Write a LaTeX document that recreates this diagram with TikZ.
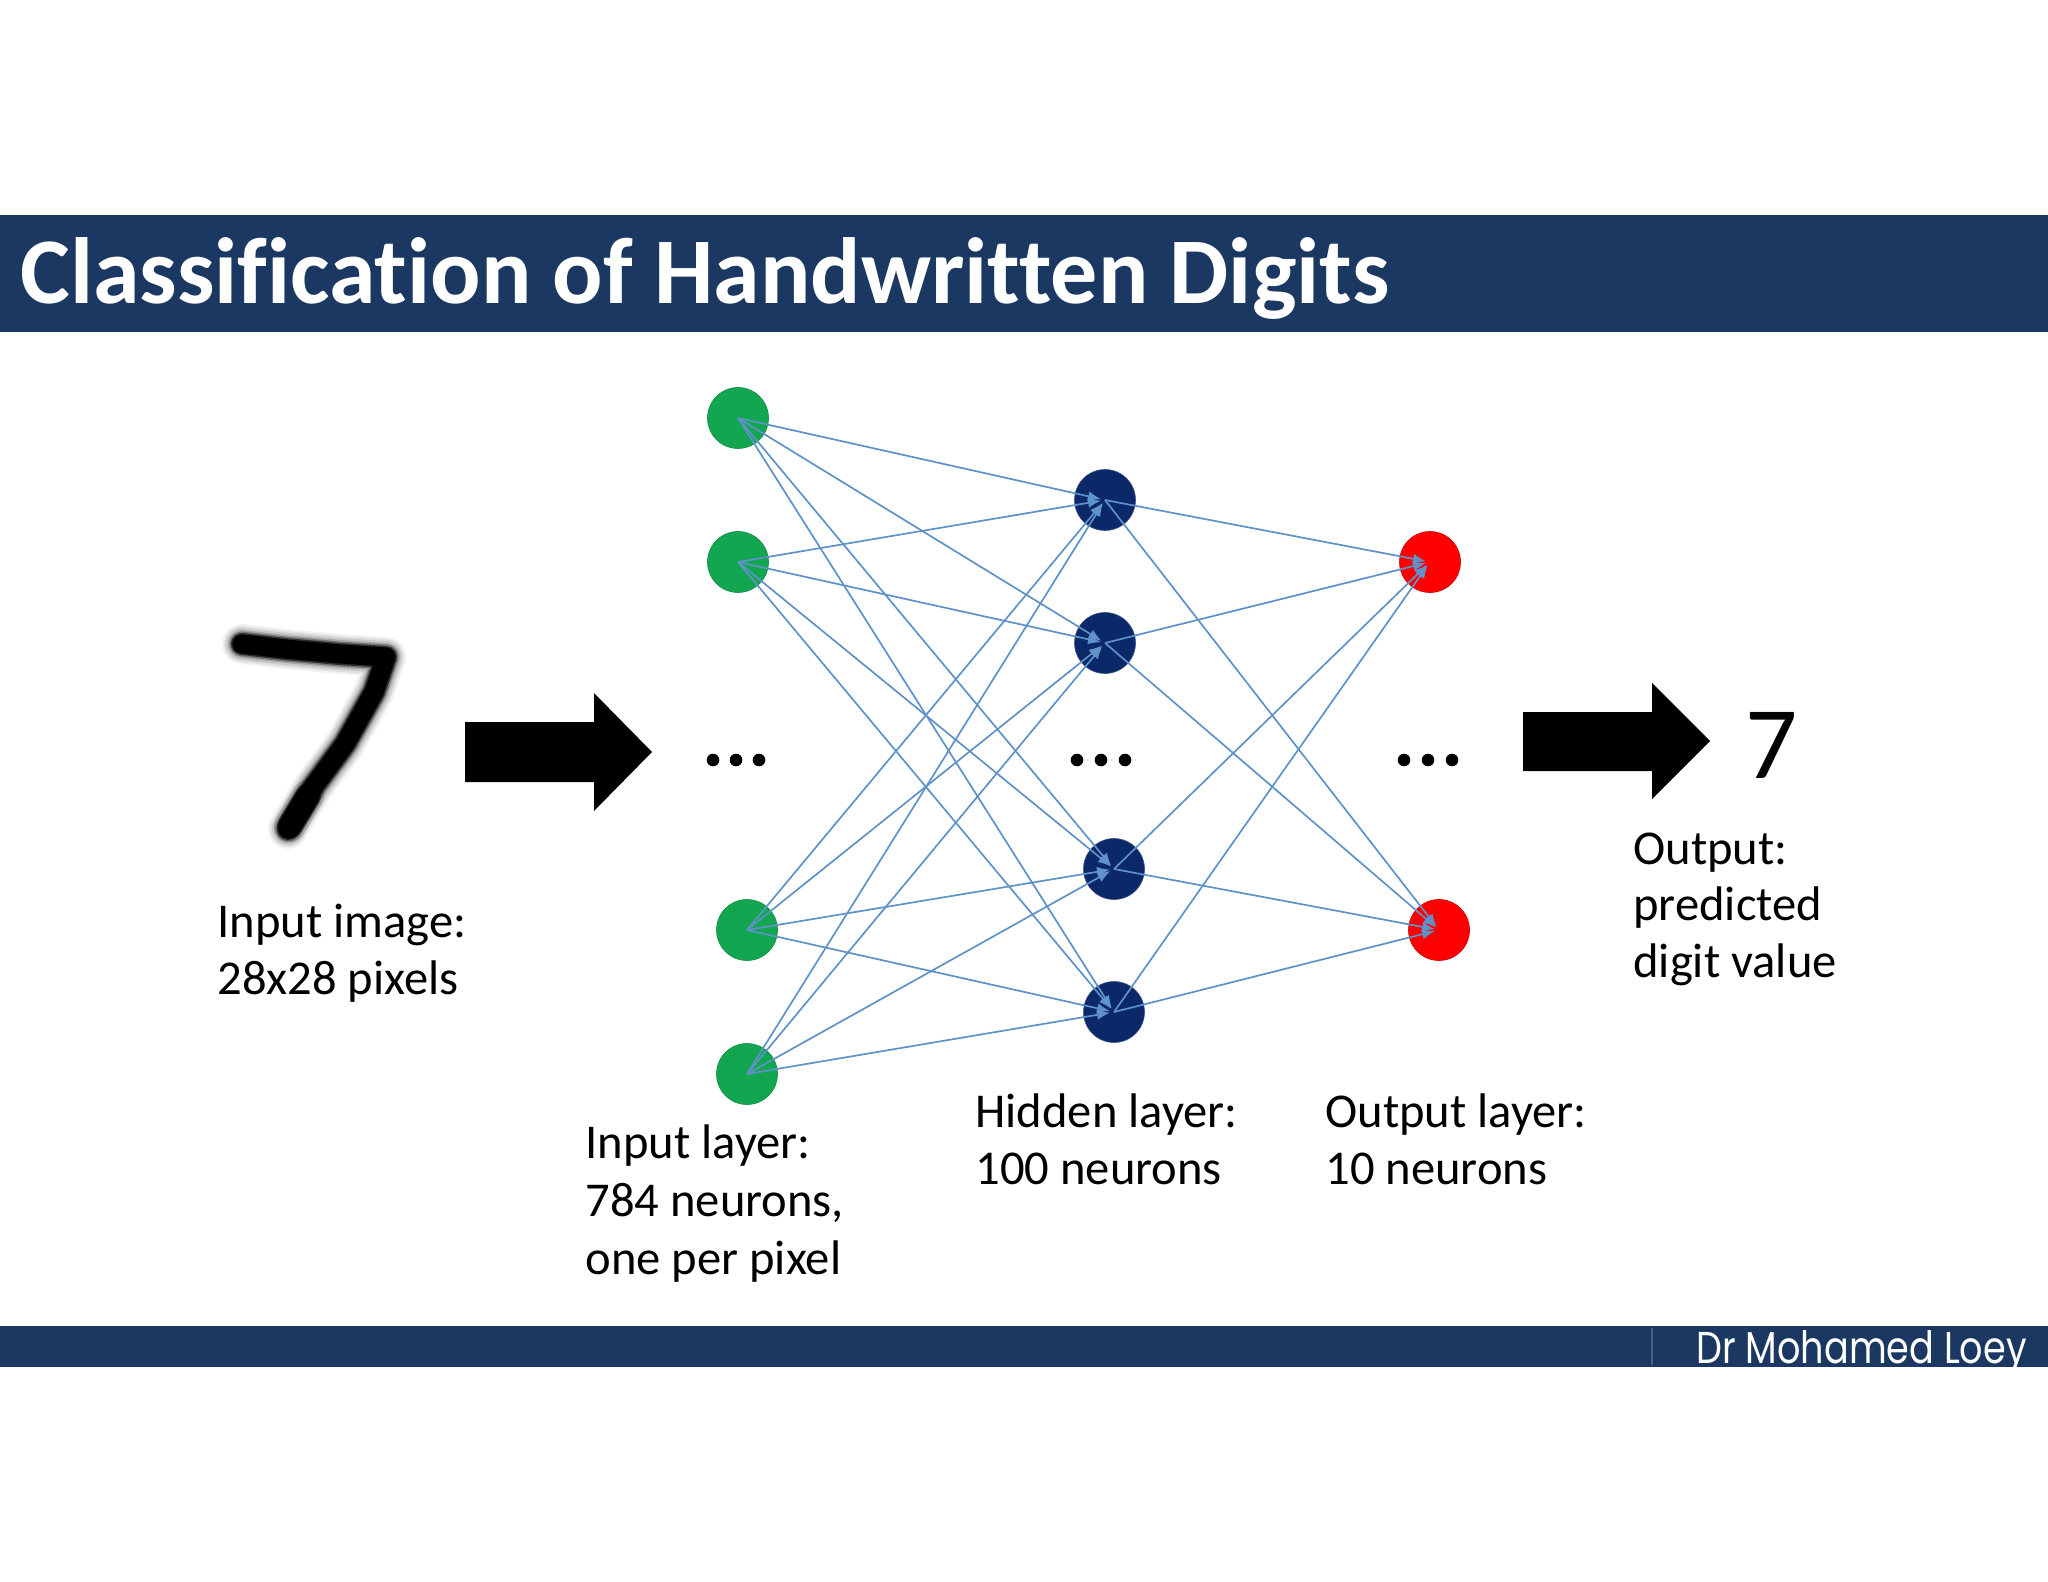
\documentclass[tikz,border=0pt]{standalone}
\usepackage{fontspec}
\usepackage{graphicx}
\setmainfont{Carlito}[Ligatures=NoCommon]
\newfontfamily\footfont{Poppins}
\usetikzlibrary{arrows.meta}
\definecolor{barblue}{HTML}{1A3862}
\definecolor{ngreen}{HTML}{13A650}
\definecolor{nnavy}{HTML}{0B2868}
\definecolor{nred}{HTML}{FF0000}
\definecolor{conncol}{HTML}{5F92C8}
\tikzset{
  neuron/.style={circle, minimum size=30.5pt, inner sep=0pt},
  inneuron/.style={neuron, fill=ngreen, draw=ngreen!85!black, line width=0.3pt},
  hidneuron/.style={neuron, fill=nnavy, draw=nnavy!80!white, line width=0.3pt},
  outneuron/.style={neuron, fill=nred, draw=nred!80!black, line width=0.3pt},
  conn/.style={draw=conncol, line width=0.85pt, -{Latex[length=6.5pt,width=5pt]}, shorten >=2pt},
  lbl/.style={inner sep=0pt, anchor=base west, font=\fontsize{24.3}{28}\selectfont},
  bigarrow/.style={fill=black},
  sevenpath/.style={line cap=round, line join=round, black},
}
\begin{document}
\begin{tikzpicture}[x=0.5pt, y=-0.5pt]
\useasboundingbox (0,0) rectangle (2048,1582);
\fill[white] (0,0) rectangle (2048,1582);
% title bar
\fill[barblue] (0,215) rectangle (2048,332);
\node[inner sep=0pt, anchor=base west, text=white, font=\fontsize{47}{56}\selectfont\bfseries] (title) at (20,304) {Classification of Handwritten Digits};
% footer bar
\fill[barblue] (0,1326) rectangle (2048,1367);
\draw[barblue!80!white, line width=0.6pt] (1652,1328) -- (1652,1365);
\node[inner sep=0pt, anchor=base east, text=white] (footer) at (2027,1363) {\resizebox{165pt}{16.5pt}{\footfont Dr Mohamed Loey}};

% handwritten 7 (blurred stroke)
\foreach \w/\o in {20/0.05, 18/0.07, 16/0.10, 14/0.16, 12.5/0.3, 11/0.6, 9.5/1}
  \draw[sevenpath, line width=\w pt, opacity=\o]
    (242,644) -- (285,649) -- (340,654) -- (386,657) -- (374,692) -- (345,744) -- (314,786) -- (292,822) -- (288,829);
\foreach \w/\o in {16/0.15, 13/0.5, 11.5/1}
  \draw[sevenpath, line width=\w pt, opacity=\o] (308,796) -- (290,826);

% big arrows
\fill[bigarrow] (465,722) -- (594,722) -- (594,693) -- (652,752) -- (594,811) -- (594,782) -- (465,782) -- cycle;
\fill[bigarrow] (1523,712) -- (1652,712) -- (1652,683) -- (1710,741) -- (1652,799) -- (1652,771) -- (1523,771) -- cycle;

% neurons
\node[inneuron] (I1) at (738,418) {};
\node[inneuron] (I2) at (738,562) {};
\node[inneuron] (I3) at (747,930) {};
\node[inneuron] (I4) at (747,1074) {};
\node[hidneuron] (H1) at (1105,500) {};
\node[hidneuron] (H2) at (1105,643) {};
\node[hidneuron] (H3) at (1114,869) {};
\node[hidneuron] (H4) at (1114,1012) {};
\node[outneuron] (O1) at (1430,562) {};
\node[outneuron] (O2) at (1439,930) {};

% connections
\foreach \s in {I1,I2,I3,I4}
  \foreach \t in {H1,H2,H3,H4}
    \draw[conn] (\s.center) -- (\t.center);
\foreach \s in {H1,H2,H3,H4}
  \foreach \t in {O1,O2}
    \draw[conn] (\s.center) -- (\t.center);

% ellipsis dots
\foreach \x in {713,736,759} \fill[black] (\x,760) circle[radius=6.3];
\foreach \x in {1077,1101,1125} \fill[black] (\x,760) circle[radius=6.3];
\foreach \x in {1404,1428,1452} \fill[black] (\x,760) circle[radius=6.3];

% output digit
\node[inner sep=0pt, anchor=base west, font=\fontsize{51.5}{60}\selectfont] (pred) at (1745,778) {7};

% labels
\node[lbl] (lin1) at (217,937) {Input image:};
\node[lbl] (lin2) at (217,994) {28x28 pixels};
\node[lbl] (lil1) at (585,1158) {Input layer:};
\node[lbl] (lil2) at (585,1216) {784 neurons,};
\node[lbl] (lil3) at (585,1274) {one per pixel};
\node[lbl] (lhl1) at (975,1127) {Hidden layer:};
\node[lbl] (lhl2) at (975,1184) {100 neurons};
\node[lbl] (lol1) at (1325,1127) {Output layer:};
\node[lbl] (lol2) at (1325,1184) {10 neurons};
\node[lbl] (lo1) at (1633,864) {Output:};
\node[lbl] (lo2) at (1633,920) {predicted};
\node[lbl] (lo3) at (1633,977) {digit value};
\end{tikzpicture}
\end{document}
